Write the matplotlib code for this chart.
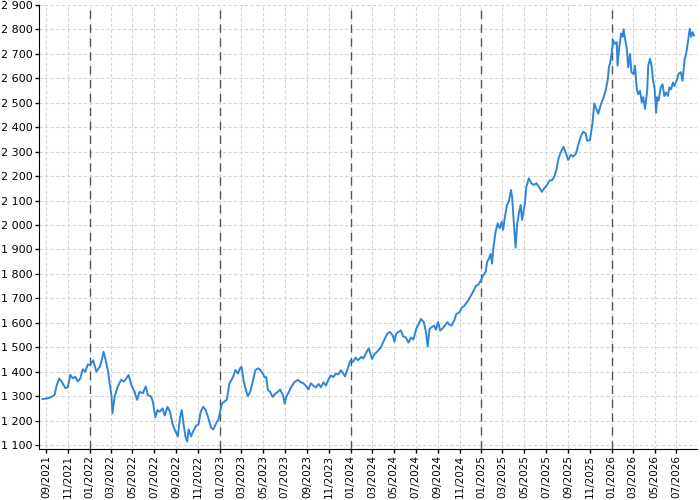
import matplotlib
matplotlib.use("Agg")
import matplotlib.pyplot as plt
import matplotlib.dates as mdates
from matplotlib.ticker import FuncFormatter, MultipleLocator
import numpy as np
import pandas as pd

# values
dates = [
    "2021-08-22", "2021-09-08", "2021-09-17", "2021-09-25", "2021-10-01", "2021-10-08",
    "2021-10-15", "2021-10-25", "2021-11-01", "2021-11-08", "2021-11-15", "2021-11-22",
    "2021-11-29", "2021-12-06", "2021-12-13", "2021-12-20", "2021-12-27", "2022-01-02",
    "2022-01-11", "2022-01-20", "2022-01-30", "2022-02-03", "2022-02-09", "2022-02-15",
    "2022-02-22", "2022-02-26", "2022-03-03", "2022-03-06", "2022-03-12", "2022-03-21",
    "2022-03-30", "2022-04-07", "2022-04-14", "2022-04-20", "2022-04-28", "2022-05-07",
    "2022-05-14", "2022-05-21", "2022-05-30", "2022-06-07", "2022-06-13", "2022-06-22",
    "2022-06-27", "2022-07-04", "2022-07-10", "2022-07-16", "2022-07-24", "2022-07-30",
    "2022-08-07", "2022-08-14", "2022-08-21", "2022-08-29", "2022-09-05", "2022-09-11",
    "2022-09-16", "2022-09-21", "2022-09-26", "2022-10-01", "2022-10-05", "2022-10-12",
    "2022-10-18", "2022-10-26", "2022-11-02", "2022-11-08", "2022-11-15", "2022-11-22",
    "2022-11-30", "2022-12-07", "2022-12-13", "2022-12-20", "2022-12-28", "2023-01-02",
    "2023-01-07", "2023-01-13", "2023-01-20", "2023-01-27", "2023-02-06", "2023-02-13",
    "2023-02-20", "2023-02-26", "2023-03-02", "2023-03-08", "2023-03-15", "2023-03-20",
    "2023-03-27", "2023-04-03", "2023-04-10", "2023-04-18", "2023-04-24", "2023-05-03",
    "2023-05-05", "2023-05-10", "2023-05-15", "2023-05-21", "2023-05-28", "2023-06-05",
    "2023-06-12", "2023-06-18", "2023-06-26", "2023-07-01", "2023-07-05", "2023-07-13",
    "2023-07-20", "2023-07-28", "2023-08-06", "2023-08-15", "2023-08-22", "2023-08-29",
    "2023-09-05", "2023-09-12", "2023-09-19", "2023-09-26", "2023-10-04", "2023-10-10",
    "2023-10-17", "2023-10-24", "2023-11-01", "2023-11-07", "2023-11-14", "2023-11-21",
    "2023-11-28", "2023-12-05", "2023-12-11", "2023-12-17", "2023-12-24", "2024-01-01",
    "2024-01-08", "2024-01-15", "2024-01-22", "2024-01-31", "2024-02-06", "2024-02-13",
    "2024-02-21", "2024-02-27", "2024-03-01", "2024-03-07", "2024-03-16", "2024-03-26",
    "2024-04-04", "2024-04-13", "2024-04-20", "2024-04-28", "2024-05-03", "2024-05-07",
    "2024-05-14", "2024-05-21", "2024-05-27", "2024-06-04", "2024-06-11", "2024-06-18",
    "2024-06-25", "2024-07-03", "2024-07-10", "2024-07-16", "2024-07-24", "2024-07-30",
    "2024-08-04", "2024-08-09", "2024-08-16", "2024-08-22", "2024-08-27", "2024-09-02",
    "2024-09-08", "2024-09-14", "2024-09-21", "2024-09-28", "2024-10-03", "2024-10-10",
    "2024-10-17", "2024-10-23", "2024-11-01", "2024-11-08", "2024-11-14", "2024-11-21",
    "2024-11-26", "2024-12-03", "2024-12-10", "2024-12-17", "2024-12-24", "2025-01-01",
    "2025-01-06", "2025-01-13", "2025-01-17", "2025-01-22", "2025-01-27", "2025-01-31",
    "2025-02-04", "2025-02-10", "2025-02-16", "2025-02-22", "2025-02-27", "2025-03-03",
    "2025-03-08", "2025-03-14", "2025-03-19", "2025-03-25", "2025-03-28", "2025-04-02",
    "2025-04-07", "2025-04-11", "2025-04-16", "2025-04-21", "2025-04-25", "2025-05-03",
    "2025-05-07", "2025-05-14", "2025-05-21", "2025-05-28", "2025-06-04", "2025-06-11",
    "2025-06-19", "2025-06-26", "2025-07-04", "2025-07-11", "2025-07-18", "2025-07-24",
    "2025-07-30", "2025-08-05", "2025-08-12", "2025-08-19", "2025-08-26", "2025-09-01",
    "2025-09-08", "2025-09-15", "2025-09-23", "2025-09-29", "2025-10-06", "2025-10-13",
    "2025-10-20", "2025-10-24", "2025-11-01", "2025-11-08", "2025-11-13", "2025-11-20",
    "2025-11-24", "2025-12-02", "2025-12-08", "2025-12-15", "2025-12-21", "2025-12-24",
    "2025-12-28", "2026-01-01", "2026-01-05", "2026-01-10", "2026-01-15", "2026-01-17",
    "2026-01-22", "2026-01-27", "2026-01-31", "2026-02-03", "2026-02-07", "2026-02-12",
    "2026-02-16", "2026-02-21", "2026-02-25", "2026-03-03", "2026-03-07", "2026-03-12",
    "2026-03-16", "2026-03-21", "2026-03-26", "2026-03-30", "2026-04-04", "2026-04-10",
    "2026-04-13", "2026-04-18", "2026-04-23", "2026-04-26", "2026-05-01", "2026-05-05",
    "2026-05-08", "2026-05-12", "2026-05-18", "2026-05-23", "2026-05-28", "2026-06-02",
    "2026-06-07", "2026-06-11", "2026-06-16", "2026-06-21", "2026-06-25", "2026-07-03",
    "2026-07-07", "2026-07-13", "2026-07-18", "2026-07-24", "2026-07-28", "2026-08-02",
    "2026-08-07", "2026-08-11", "2026-08-15", "2026-08-19",
]
values = [
    1288, 1292, 1298, 1305, 1345, 1372,
    1360, 1333, 1337, 1387, 1373, 1380,
    1360, 1373, 1410, 1400, 1430, 1427,
    1447, 1400, 1422, 1442, 1482, 1447,
    1400, 1353, 1305, 1230, 1298, 1340,
    1367, 1360, 1373, 1387, 1345, 1318,
    1285, 1318, 1312, 1340, 1305, 1298,
    1278, 1214, 1243, 1236, 1250, 1221,
    1257, 1236, 1186, 1157, 1136, 1214,
    1243, 1186, 1136, 1114, 1164, 1136,
    1157, 1179, 1186, 1236, 1257, 1243,
    1207, 1171, 1164, 1186, 1207, 1243,
    1271, 1278, 1286, 1350, 1378, 1407,
    1393, 1414, 1420, 1364, 1321, 1300,
    1321, 1364, 1407, 1414, 1407, 1386,
    1378, 1378, 1325, 1318, 1297, 1311,
    1318, 1327, 1304, 1270, 1297, 1318,
    1340, 1357, 1367, 1357, 1353, 1343,
    1327, 1353, 1343, 1336, 1350, 1336,
    1357, 1343, 1371, 1385, 1378, 1392,
    1389, 1406, 1395, 1381, 1412, 1447,
    1440, 1458, 1447, 1461, 1454, 1475,
    1496, 1468, 1452, 1469, 1483, 1500,
    1529, 1556, 1563, 1549, 1523, 1553,
    1563, 1569, 1545, 1540, 1519, 1540,
    1532, 1576, 1596, 1616, 1603, 1563,
    1503, 1576, 1583, 1589, 1572, 1603,
    1569, 1576, 1589, 1603, 1593, 1589,
    1609, 1636, 1643, 1663, 1669, 1683,
    1693, 1711, 1731, 1751, 1757, 1777,
    1794, 1808, 1848, 1862, 1882, 1842,
    1910, 1973, 2007, 1987, 2014, 1980,
    2034, 2082, 2096, 2143, 2116, 2007,
    1907, 2000, 2048, 2082, 2021, 2089,
    2157, 2191, 2171, 2164, 2171, 2157,
    2136, 2150, 2164, 2182, 2184, 2197,
    2226, 2273, 2300, 2320, 2293, 2266,
    2287, 2280, 2293, 2327, 2361, 2382,
    2375, 2345, 2348, 2416, 2497, 2470,
    2455, 2496, 2517, 2551, 2597, 2645,
    2666, 2707, 2755, 2741, 2748, 2652,
    2727, 2783, 2770, 2801, 2763, 2722,
    2645, 2700, 2625, 2618, 2652, 2555,
    2535, 2549, 2502, 2523, 2475, 2549,
    2652, 2680, 2645, 2597, 2555, 2460,
    2523, 2509, 2563, 2576, 2528, 2542,
    2528, 2563, 2555, 2583, 2569, 2597,
    2618, 2625, 2590, 2680, 2700, 2748,
    2803, 2770, 2789, 2775,
]
year_starts = ["2022-01-01", "2023-01-01", "2024-01-01", "2025-01-01", "2026-01-01"]


def thousands(v, pos):
    return f"{int(round(v)):,}".replace(",", " ")


def main():
    x = pd.to_datetime(dates)

    fig = plt.figure(figsize=(7, 5), dpi=100)
    ax = fig.add_axes([0.056, 0.102, 0.94, 0.888])

    ax.grid(True, color="#d4d4d4", linestyle=(0, (3, 2)), linewidth=0.8)
    ax.set_axisbelow(True)

    for d in pd.to_datetime(year_starts):
        ax.axvline(d, color="#555555", linestyle=(0, (6, 4)), linewidth=1.0, zorder=2)

    ax.plot(x, values, color="#2f86d8", linewidth=1.4, zorder=3)

    ax.set_xlim(pd.Timestamp("2021-08-13"), pd.Timestamp("2026-08-28"))
    ax.set_ylim(1084, 2900)

    ax.yaxis.set_major_locator(MultipleLocator(100))
    ax.yaxis.set_major_formatter(FuncFormatter(thousands))
    ax.xaxis.set_major_locator(mdates.MonthLocator(bymonth=[1, 3, 5, 7, 9, 11]))
    ax.xaxis.set_major_formatter(mdates.DateFormatter("%m/%Y"))

    ax.tick_params(axis="both", length=3, width=1, direction="out")
    ax.tick_params(axis="x", pad=1, labelsize=7.5)
    ax.tick_params(axis="y", pad=1.5, labelsize=8)
    plt.setp(ax.get_xticklabels(), rotation=90)

    ax.spines["top"].set_visible(False)
    ax.spines["right"].set_visible(False)

    fig.savefig("out.png", dpi=100)


if __name__ == "__main__":
    main()
